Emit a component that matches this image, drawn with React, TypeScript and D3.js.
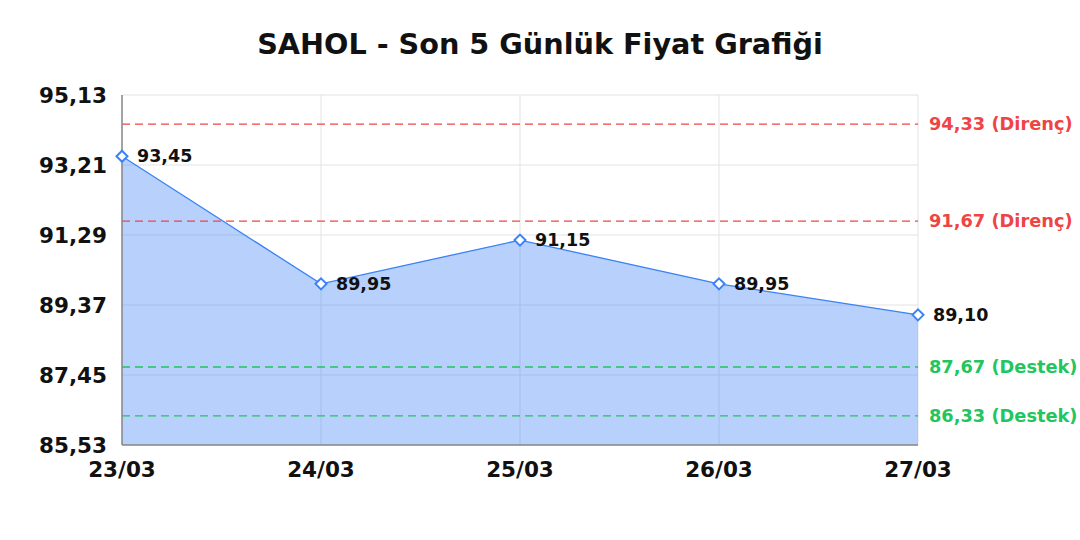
import React from "react";
import * as d3 from "d3";

const title = "SAHOL - Son 5 Günlük Fiyat Grafiği";
const dates = ["23/03", "24/03", "25/03", "26/03", "27/03"];
const prices = [93.45, 89.95, 91.15, 89.95, 89.1];
const yTicks = [85.53, 87.45, 89.37, 91.29, 93.21, 95.13];
const resistance = [94.33, 91.67];
const support = [87.67, 86.33];

const W = 1080;
const H = 540;
const M = { left: 122, right: 918, top: 95, bottom: 445 };
const FONT = "'DejaVu Sans', sans-serif";
const BLUE = "#3b82f6";
const RED = "#ef4444";
const GREEN = "#22c55e";

const fmt = (v: number) => v.toFixed(2).replace(".", ",");

export default function App() {
  const x = d3.scalePoint<string>().domain(dates).range([M.left, M.right]);
  const y = d3.scaleLinear().domain([yTicks[0], yTicks[yTicks.length - 1]]).range([M.bottom, M.top]);
  const pts = dates.map((d, i) => ({ d, v: prices[i] }));
  const area = d3
    .area<{ d: string; v: number }>()
    .x((p) => x(p.d)!)
    .y0(M.bottom)
    .y1((p) => y(p.v));
  const line = d3
    .line<{ d: string; v: number }>()
    .x((p) => x(p.d)!)
    .y((p) => y(p.v));

  const refs = [
    ...resistance.map((v) => ({ v, c: RED, t: `${fmt(v)} (Direnç)` })),
    ...support.map((v) => ({ v, c: GREEN, t: `${fmt(v)} (Destek)` })),
  ];

  return (
    <svg
      width={W}
      height={H}
      style={{ position: "absolute", left: 0, top: 0, background: "#fff" }}
      fontFamily={FONT}
    >
      <text x={540} y={54} textAnchor="middle" fontSize={28.7} fontWeight="bold" fill="#111">
        {title}
      </text>
      {/* grid */}
      {yTicks.map((t) => (
        <line key={"gy" + t} x1={M.left} x2={M.right} y1={y(t)} y2={y(t)} stroke="#e3e3e3" strokeWidth={1} />
      ))}
      {dates.map((d) => (
        <line key={"gx" + d} x1={x(d)} x2={x(d)} y1={M.top} y2={M.bottom} stroke="#e3e3e3" strokeWidth={1} />
      ))}
      {/* area and line */}
      <path d={area(pts)!} fill="rgba(59,130,246,0.37)" />
      <path d={line(pts)!} fill="none" stroke={BLUE} strokeWidth={1.3} />
      {/* reference lines */}
      {refs.map((r) => (
        <g key={"r" + r.v}>
          <line
            x1={M.left}
            x2={M.right}
            y1={y(r.v)}
            y2={y(r.v)}
            stroke={r.c}
            strokeWidth={1.3}
            strokeDasharray="8,5"
          />
          <text x={929} y={y(r.v)} dy="0.35em" fontSize={17.8} fontWeight="bold" fill={r.c}>
            {r.t}
          </text>
        </g>
      ))}
      {/* axes */}
      <line x1={M.left} x2={M.left} y1={M.top} y2={M.bottom} stroke="#888" strokeWidth={1.5} />
      <line x1={M.left} x2={M.right} y1={M.bottom} y2={M.bottom} stroke="#888" strokeWidth={1.5} />
      {yTicks.map((t) => (
        <text key={"yt" + t} x={107} y={y(t)} dy="0.36em" textAnchor="end" fontSize={21.5} fontWeight="bold" fill="#111">
          {fmt(t)}
        </text>
      ))}
      {dates.map((d) => (
        <text key={"xt" + d} x={x(d)} y={477} textAnchor="middle" fontSize={21.5} fontWeight="bold" fill="#111">
          {d}
        </text>
      ))}
      {/* markers and labels */}
      {pts.map((p) => {
        const cx = x(p.d)!;
        const cy = y(p.v);
        return (
          <g key={"m" + p.d}>
            <path
              d={`M${cx},${cy - 5.5}L${cx + 5.5},${cy}L${cx},${cy + 5.5}L${cx - 5.5},${cy}Z`}
              fill="#fff"
              stroke={BLUE}
              strokeWidth={2}
            />
            <text x={cx + 15} y={cy} dy="0.35em" fontSize={17.5} fontWeight="bold" fill="#111">
              {fmt(p.v)}
            </text>
          </g>
        );
      })}
    </svg>
  );
}
